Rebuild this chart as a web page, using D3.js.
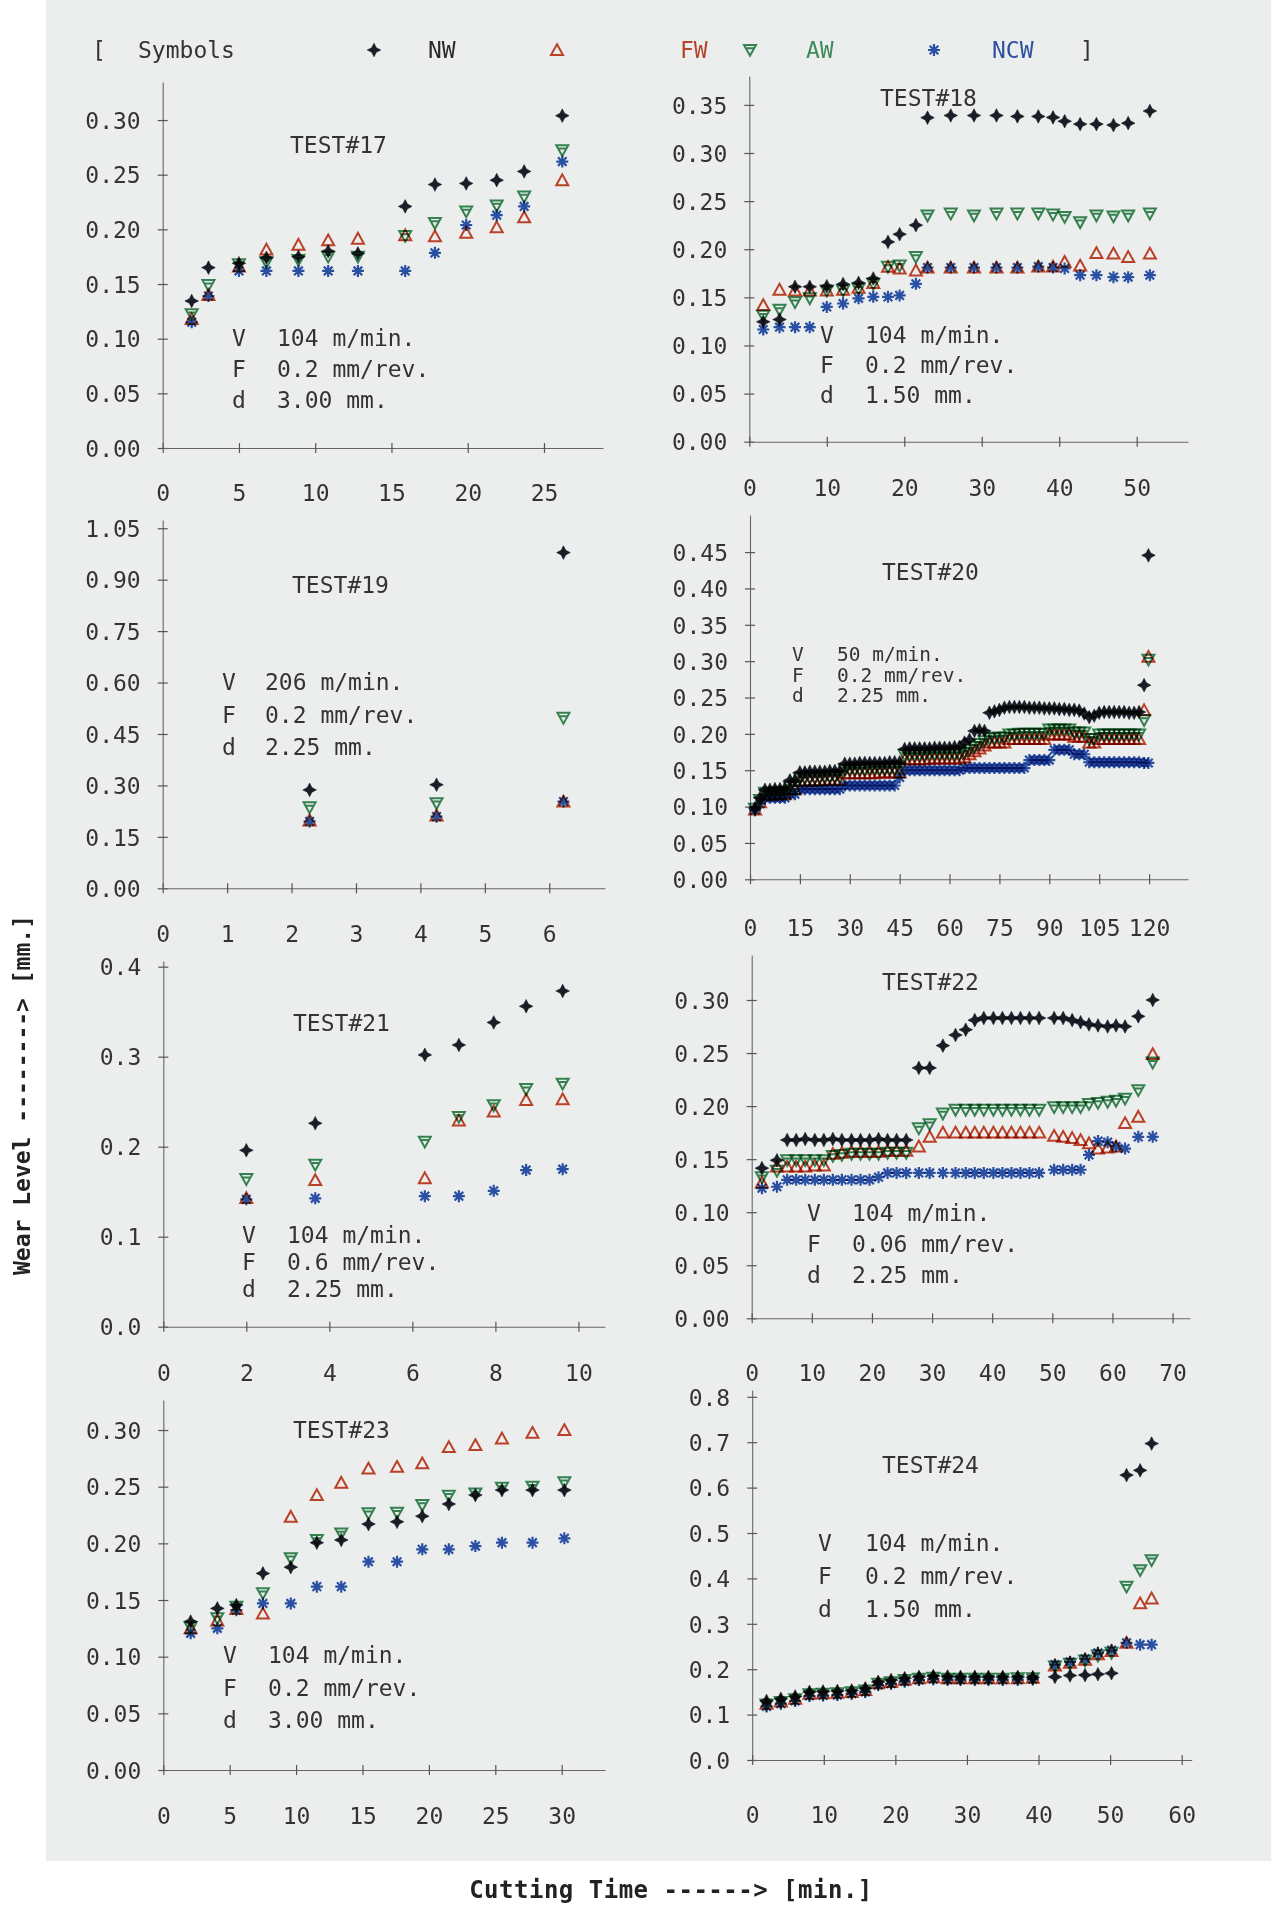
<!DOCTYPE html>
<html>
<head>
<meta charset="utf-8">
<script src="https://cdn.jsdelivr.net/npm/d3@7"></script>
<style>
  html, body { margin: 0; padding: 0; background: #ffffff; }
  svg { display: block; }
  text { font-family: "DejaVu Sans Mono", "Liberation Mono", monospace; font-size: 23px; fill: #333333; }
</style>
</head>
<body>
<svg id="chart" width="1271" height="1910"></svg>
<script>
// ---------------- data ----------------
const seriesNames = ["NW", "FW", "AW", "NCW"];
const legendTitle = "Symbols";
const xTitle = "Cutting Time ------>  [min.]";
const yTitle = "Wear Level -------->  [mm.]";
const paramKeys = ["V", "F", "d"];

// TEST#17
const t17   = [1.9, 3.0, 5.0, 6.8, 8.9, 10.85, 12.8, 15.9, 17.85, 19.9, 21.9, 23.7, 26.2];
const nw17  = [0.1345, 0.165, 0.169, 0.174, 0.175, 0.180, 0.178, 0.221, 0.241, 0.242, 0.245, 0.253, 0.304];
const fw17  = [0.118, 0.140, 0.166, 0.1815, 0.186, 0.190, 0.1915, 0.1945, 0.1936, 0.197, 0.202, 0.211, 0.245];
const aw17  = [0.1224, 0.149, 0.168, 0.170, 0.172, 0.175, 0.175, 0.194, 0.2058, 0.2164, 0.2218, 0.230, 0.2724];
const ncw17 = [0.115, 0.139, 0.162, 0.162, 0.162, 0.162, 0.162, 0.162, 0.1785, 0.204, 0.213, 0.221, 0.262];
const xTicks17 = [0, 5, 10, 15, 20, 25];
const yTicks17 = [0, 0.05, 0.10, 0.15, 0.20, 0.25, 0.30];
const params17 = ["104 m/min.", "0.2 mm/rev.", "3.00 mm."];

// TEST#18
const t18   = [1.8, 3.9, 5.9, 7.8, 10.0, 12.1, 14.1, 16.0, 17.9, 19.4, 21.5, 23.0, 26.0, 29.0, 31.9, 34.6, 37.3, 39.2, 40.7, 42.7, 44.8, 47.0, 48.9, 51.7];
const nw18  = [0.1246, 0.127, 0.161, 0.161, 0.1616, 0.1637, 0.165, 0.1696, 0.2076, 0.2156, 0.225, 0.3367, 0.339, 0.339, 0.339, 0.338, 0.338, 0.337, 0.333, 0.330, 0.330, 0.329, 0.331, 0.3436];
const fw18  = [0.142, 0.158, 0.157, 0.157, 0.157, 0.158, 0.160, 0.165, 0.1817, 0.180, 0.178, 0.181, 0.181, 0.181, 0.181, 0.181, 0.182, 0.182, 0.187, 0.183, 0.196, 0.1955, 0.192, 0.1955];
const aw18  = [0.131, 0.137, 0.145, 0.149, 0.157, 0.157, 0.159, 0.164, 0.1817, 0.183, 0.192, 0.235, 0.237, 0.235, 0.237, 0.237, 0.237, 0.236, 0.2336, 0.228, 0.235, 0.234, 0.235, 0.237];
const ncw18 = [0.1166, 0.119, 0.119, 0.119, 0.140, 0.1436, 0.149, 0.1505, 0.1505, 0.152, 0.164, 0.181, 0.181, 0.181, 0.181, 0.181, 0.182, 0.181, 0.180, 0.173, 0.173, 0.171, 0.171, 0.173];
const xTicks18 = [0, 10, 20, 30, 40, 50];
const yTicks18 = [0, 0.05, 0.10, 0.15, 0.20, 0.25, 0.30, 0.35];
const params18 = ["104 m/min.", "0.2 mm/rev.", "1.50 mm."];

// TEST#19
const t19   = [2.28, 4.25, 6.22];
const nw19  = [0.287, 0.302, 0.979];
const fw19  = [0.198, 0.212, 0.253];
const aw19  = [0.236, 0.248, 0.497];
const ncw19 = [0.195, 0.209, 0.253];
const xTicks19 = [0, 1, 2, 3, 4, 5, 6];
const yTicks19 = [0, 0.15, 0.30, 0.45, 0.60, 0.75, 0.90, 1.05];
const params19 = ["206 m/min.", "0.2 mm/rev.", "2.25 mm."];

// TEST#20
const t20 = [1.5, 3, 4.5, 6, 7.5, 9, 10.5, 12, 13.5, 15,
             16.5, 18, 19.5, 21, 22.5, 24, 25.5, 27, 28.5, 30,
             31.5, 33, 34.5, 36, 37.5, 39, 40.5, 42, 43.5, 45,
             46.5, 48, 49.5, 51, 52.5, 54, 55.5, 57, 58.5, 60,
             61.5, 63, 64.5, 66, 67.5, 69, 70.5, 72, 73.5, 75,
             76.5, 78, 79.5, 81, 82.5, 84, 85.5, 87, 88.5, 90,
             91.5, 93, 94.5, 96, 97.5, 99, 100.5, 102, 103.5, 105,
             106.5, 108, 109.5, 111, 112.5, 114, 115.5, 117, 118.5, 119.8];
const nw20 = [0.098, 0.112, 0.123, 0.123, 0.124, 0.124, 0.125, 0.136, 0.136, 0.147,
              0.147, 0.148, 0.148, 0.148, 0.148, 0.149, 0.149, 0.149, 0.159, 0.159,
              0.159, 0.160, 0.160, 0.160, 0.160, 0.160, 0.160, 0.161, 0.161, 0.161,
              0.179, 0.180, 0.180, 0.180, 0.180, 0.180, 0.181, 0.181, 0.181, 0.181,
              0.182, 0.182, 0.188, 0.192, 0.204, 0.205, 0.204, 0.229, 0.231, 0.233,
              0.236, 0.237, 0.237, 0.237, 0.237, 0.236, 0.236, 0.236, 0.235, 0.235,
              0.235, 0.234, 0.234, 0.233, 0.233, 0.232, 0.228, 0.223, 0.225, 0.229,
              0.230, 0.230, 0.230, 0.230, 0.230, 0.229, 0.229, 0.230, 0.267, 0.4455];
const fw20 = [0.096, 0.106, 0.116, 0.116, 0.117, 0.117, 0.117, 0.124, 0.124, 0.135,
              0.136, 0.136, 0.136, 0.136, 0.137, 0.137, 0.137, 0.137, 0.146, 0.146,
              0.146, 0.146, 0.146, 0.146, 0.146, 0.147, 0.147, 0.147, 0.147, 0.147,
              0.165, 0.165, 0.165, 0.165, 0.165, 0.166, 0.166, 0.166, 0.166, 0.166,
              0.166, 0.166, 0.168, 0.172, 0.176, 0.180, 0.184, 0.188, 0.188, 0.188,
              0.188, 0.193, 0.193, 0.193, 0.193, 0.193, 0.193, 0.193, 0.193, 0.199,
              0.199, 0.199, 0.199, 0.199, 0.196, 0.196, 0.196, 0.188, 0.188, 0.193,
              0.193, 0.193, 0.193, 0.193, 0.193, 0.193, 0.193, 0.193, 0.2326, 0.306];
const aw20 = [0.097, 0.109, 0.119, 0.119, 0.119, 0.120, 0.120, 0.127, 0.127, 0.139,
              0.140, 0.140, 0.140, 0.140, 0.141, 0.141, 0.141, 0.141, 0.151, 0.151,
              0.151, 0.151, 0.151, 0.152, 0.152, 0.152, 0.152, 0.152, 0.152, 0.152,
              0.171, 0.171, 0.171, 0.171, 0.171, 0.172, 0.172, 0.172, 0.172, 0.172,
              0.172, 0.172, 0.174, 0.178, 0.182, 0.186, 0.190, 0.194, 0.194, 0.195,
              0.195, 0.199, 0.199, 0.200, 0.200, 0.200, 0.200, 0.200, 0.200, 0.206,
              0.206, 0.206, 0.206, 0.206, 0.202, 0.202, 0.202, 0.193, 0.193, 0.199,
              0.199, 0.199, 0.199, 0.199, 0.199, 0.199, 0.199, 0.199, 0.219, 0.302];
const ncw20 = [0.095, 0.104, 0.112, 0.112, 0.112, 0.112, 0.112, 0.117, 0.117, 0.124,
               0.124, 0.124, 0.124, 0.124, 0.124, 0.124, 0.124, 0.124, 0.129, 0.129,
               0.129, 0.129, 0.129, 0.129, 0.129, 0.129, 0.129, 0.129, 0.129, 0.140,
               0.150, 0.150, 0.150, 0.150, 0.150, 0.150, 0.150, 0.150, 0.150, 0.150,
               0.150, 0.150, 0.153, 0.153, 0.153, 0.153, 0.153, 0.153, 0.153, 0.153,
               0.153, 0.153, 0.153, 0.153, 0.153, 0.164, 0.164, 0.164, 0.164, 0.164,
               0.178, 0.178, 0.178, 0.178, 0.172, 0.172, 0.172, 0.161, 0.161, 0.161,
               0.161, 0.161, 0.161, 0.161, 0.161, 0.161, 0.161, 0.161, 0.160, 0.160];
const xTicks20 = [0, 15, 30, 45, 60, 75, 90, 105, 120];
const yTicks20 = [0, 0.05, 0.10, 0.15, 0.20, 0.25, 0.30, 0.35, 0.40, 0.45];
const params20 = ["50 m/min.", "0.2 mm/rev.", "2.25 mm."];

// TEST#21
const t21   = [2.0, 3.66, 6.3, 7.12, 7.96, 8.74, 9.62];
const nw21  = [0.196, 0.226, 0.302, 0.313, 0.338, 0.356, 0.373];
const fw21  = [0.143, 0.163, 0.165, 0.229, 0.239, 0.252, 0.2526];
const aw21  = [0.164, 0.180, 0.2056, 0.233, 0.246, 0.264, 0.270];
const ncw21 = [0.1415, 0.1426, 0.145, 0.145, 0.151, 0.174, 0.175];
const xTicks21 = [0, 2, 4, 6, 8, 10];
const yTicks21 = [0, 0.1, 0.2, 0.3, 0.4];
const params21 = ["104 m/min.", "0.6 mm/rev.", "2.25 mm."];

// TEST#22
const t22 = [1.7, 4.2, 5.9, 7.4, 8.9, 10.5, 12.0, 13.5, 15.0, 16.6,
             18.1, 19.6, 21.1, 22.6, 24.1, 25.7, 27.8, 29.6, 31.8, 33.9,
             35.6, 37.1, 38.6, 40.2, 41.7, 43.2, 44.7, 46.2, 47.8, 50.3,
             51.8, 53.3, 54.7, 56.1, 57.6, 59.2, 60.6, 62.1, 64.3, 66.7];
const nw22 = [0.1415, 0.149, 0.168, 0.168, 0.169, 0.168, 0.168, 0.169, 0.168, 0.168,
              0.168, 0.168, 0.169, 0.168, 0.168, 0.168, 0.236, 0.236, 0.257, 0.267,
              0.272, 0.281, 0.283, 0.283, 0.283, 0.283, 0.283, 0.283, 0.283, 0.283,
              0.283, 0.281, 0.279, 0.277, 0.276, 0.275, 0.276, 0.275, 0.2846, 0.300];
const fw22 = [0.128, 0.143, 0.143, 0.143, 0.143, 0.144, 0.144, 0.155, 0.156, 0.157,
              0.157, 0.157, 0.157, 0.158, 0.158, 0.158, 0.162, 0.171, 0.175, 0.175,
              0.175, 0.175, 0.175, 0.175, 0.175, 0.175, 0.175, 0.175, 0.175, 0.172,
              0.171, 0.170, 0.168, 0.165, 0.160, 0.161, 0.162, 0.184, 0.190, 0.249];
const aw22 = [0.133, 0.139, 0.149, 0.149, 0.149, 0.149, 0.149, 0.153, 0.154, 0.155,
              0.155, 0.155, 0.155, 0.156, 0.156, 0.156, 0.179, 0.183, 0.193, 0.1965,
              0.1965, 0.1965, 0.1965, 0.1965, 0.1965, 0.1965, 0.1965, 0.1965, 0.1965, 0.199,
              0.199, 0.199, 0.199, 0.202, 0.203, 0.204, 0.205, 0.207, 0.215, 0.241];
const ncw22 = [0.1226, 0.124, 0.1305, 0.1305, 0.1305, 0.1305, 0.1305, 0.1305, 0.1305, 0.1305,
               0.1305, 0.1305, 0.133, 0.137, 0.137, 0.137, 0.137, 0.137, 0.137, 0.137,
               0.137, 0.137, 0.137, 0.137, 0.137, 0.137, 0.137, 0.137, 0.137, 0.140,
               0.140, 0.140, 0.140, 0.154, 0.167, 0.166, 0.162, 0.160, 0.171, 0.171];
const xTicks22 = [0, 10, 20, 30, 40, 50, 60, 70];
const yTicks22 = [0, 0.05, 0.10, 0.15, 0.20, 0.25, 0.30];
const params22 = ["104 m/min.", "0.06 mm/rev.", "2.25 mm."];

// TEST#23
const t23   = [2.06, 4.07, 5.5, 7.5, 9.6, 11.56, 13.4, 15.45, 17.6, 19.5, 21.5, 23.5, 25.5, 27.8, 30.2];
const nw23  = [0.131, 0.1426, 0.1456, 0.1735, 0.179, 0.2006, 0.203, 0.217, 0.219, 0.224, 0.2347, 0.2426, 0.247, 0.247, 0.247];
const fw23  = [0.125, 0.132, 0.142, 0.138, 0.2235, 0.2426, 0.2535, 0.266, 0.2676, 0.2706, 0.285, 0.2868, 0.2926, 0.2976, 0.300];
const aw23  = [0.126, 0.134, 0.144, 0.156, 0.1868, 0.203, 0.2088, 0.2265, 0.227, 0.2338, 0.242, 0.244, 0.249, 0.250, 0.254];
const ncw23 = [0.1206, 0.125, 0.141, 0.147, 0.147, 0.1618, 0.1618, 0.1838, 0.1838, 0.1947, 0.1947, 0.1976, 0.2006, 0.2006, 0.2044];
const xTicks23 = [0, 5, 10, 15, 20, 25, 30];
const yTicks23 = [0, 0.05, 0.10, 0.15, 0.20, 0.25, 0.30];
const params23 = ["104 m/min.", "0.2 mm/rev.", "3.00 mm."];

// TEST#24
const t24 = [2, 4, 6, 8, 9.9, 11.9, 13.9, 15.8, 17.6, 19.4,
             21.3, 23.3, 25.3, 27.3, 29.1, 31.1, 33.0, 35.0, 37.1, 39.2,
             42.3, 44.4, 46.5, 48.3, 50.2, 52.3, 54.2, 55.8];
const nw24 = [0.130, 0.135, 0.140, 0.150, 0.151, 0.152, 0.153, 0.158, 0.172, 0.176,
              0.180, 0.183, 0.185, 0.184, 0.183, 0.183, 0.183, 0.183, 0.183, 0.182,
              0.183, 0.186, 0.187, 0.189, 0.191, 0.6275, 0.638, 0.697];
const fw24 = [0.124, 0.129, 0.135, 0.146, 0.147, 0.148, 0.150, 0.154, 0.169, 0.172,
              0.177, 0.180, 0.182, 0.180, 0.180, 0.180, 0.180, 0.180, 0.180, 0.181,
              0.208, 0.214, 0.221, 0.233, 0.240, 0.258, 0.345, 0.356];
const aw24 = [0.122, 0.128, 0.134, 0.145, 0.146, 0.147, 0.149, 0.153, 0.168, 0.171,
              0.176, 0.179, 0.181, 0.179, 0.179, 0.179, 0.179, 0.179, 0.180, 0.180,
              0.206, 0.212, 0.219, 0.230, 0.236, 0.3817, 0.418, 0.440];
const ncw24 = [0.118, 0.124, 0.130, 0.141, 0.142, 0.143, 0.146, 0.150, 0.165, 0.168,
               0.173, 0.176, 0.178, 0.177, 0.177, 0.177, 0.177, 0.177, 0.177, 0.178,
               0.210, 0.216, 0.223, 0.236, 0.242, 0.258, 0.254, 0.254];
const xTicks24 = [0, 10, 20, 30, 40, 50, 60];
const yTicks24 = [0, 0.1, 0.2, 0.3, 0.4, 0.5, 0.6, 0.7, 0.8];
const params24 = ["104 m/min.", "0.2 mm/rev.", "1.50 mm."];

const panels = [
  { id: "17", title: "TEST#17", t: t17, vals: [nw17, fw17, aw17, ncw17], xt: xTicks17, yt: yTicks17, fmt: ".2f", params: params17 },
  { id: "18", title: "TEST#18", t: t18, vals: [nw18, fw18, aw18, ncw18], xt: xTicks18, yt: yTicks18, fmt: ".2f", params: params18 },
  { id: "19", title: "TEST#19", t: t19, vals: [nw19, fw19, aw19, ncw19], xt: xTicks19, yt: yTicks19, fmt: ".2f", params: params19 },
  { id: "20", title: "TEST#20", t: t20, vals: [nw20, fw20, aw20, ncw20], xt: xTicks20, yt: yTicks20, fmt: ".2f", params: params20 },
  { id: "21", title: "TEST#21", t: t21, vals: [nw21, fw21, aw21, ncw21], xt: xTicks21, yt: yTicks21, fmt: ".1f", params: params21 },
  { id: "22", title: "TEST#22", t: t22, vals: [nw22, fw22, aw22, ncw22], xt: xTicks22, yt: yTicks22, fmt: ".2f", params: params22 },
  { id: "23", title: "TEST#23", t: t23, vals: [nw23, fw23, aw23, ncw23], xt: xTicks23, yt: yTicks23, fmt: ".2f", params: params23 },
  { id: "24", title: "TEST#24", t: t24, vals: [nw24, fw24, aw24, ncw24], xt: xTicks24, yt: yTicks24, fmt: ".1f", params: params24 }
];

// ---------------- layout ----------------
// xr: pixel range of the time axis, yr: pixel range (bottom, top) of the wear axis
// par: [key x, value x, first line y, line gap, font size]
const layout = {
  "17": { xr: [162.7, 603],    xMax: 28.87, yr: [448, 82],     yMax: 0.3348, title: [290, 145],  par: [232, 277, 338, 31, 23],   xlab: 45 },
  "18": { xr: [749.3, 1188],   xMax: 56.62, yr: [441.7, 76],   yMax: 0.380,  title: [880, 98],   par: [820, 865, 335, 30, 23],   xlab: 46 },
  "19": { xr: [162.7, 605],    xMax: 6.865, yr: [888.3, 520],  yMax: 1.074,  title: [292, 585],  par: [222, 265, 682, 32.5, 23], xlab: 45 },
  "20": { xr: [750, 1188],     xMax: 131.7, yr: [879.3, 515],  yMax: 0.501,  title: [882, 572],  par: [792, 837, 654, 20.5, 19.5], xlab: 48 },
  "21": { xr: [163.3, 605],    xMax: 10.64, yr: [1326.7, 961], yMax: 0.4063, title: [293, 1023], par: [242, 287, 1235, 27, 23],  xlab: 46 },
  "22": { xr: [751.7, 1190],   xMax: 72.9,  yr: [1318.3, 955], yMax: 0.3424, title: [882, 982],  par: [807, 852, 1213, 31, 23],  xlab: 54 },
  "23": { xr: [163.3, 605],    xMax: 33.26, yr: [1770, 1400],  yMax: 0.3265, title: [293, 1430], par: [223, 268, 1655, 32.5, 23], xlab: 46 },
  "24": { xr: [752.2, 1191.7], xMax: 61.4,  yr: [1760, 1390],  yMax: 0.815,  title: [882, 1465], par: [818, 865, 1543, 33, 23],  xlab: 55 }
};

const marker = {
  NW:  { d: "M0,-6.8L2.3,-2.3L6.8,0L2.3,2.3L0,6.8L-2.3,2.3L-6.8,0L-2.3,-2.3Z", fill: "#1c1e28", stroke: "#1c1e28", sw: 0.6 },
  FW:  { d: "M0,-5.8L6,5L-6,5Z", fill: "none", stroke: "#c8452b", sw: 2 },
  AW:  { d: "M-6,-5L6,-5L0,5.8ZM-3.8,-1.7L3.8,-1.7", fill: "none", stroke: "#3a8a56", sw: 2 },
  NCW: { d: "M-6,0L6,0M0,-6L0,6M-4.3,-4.3L4.3,4.3M-4.3,4.3L4.3,-4.3", fill: "none", stroke: "#2c55b0", sw: 2.2 }
};
const legendColor = { NW: "#2a2a2a", FW: "#b8432c", AW: "#3f8b5a", NCW: "#2d50a0" };

const svg = d3.select("#chart");

// paper sheet
svg.append("rect").attr("x", 46).attr("y", 0).attr("width", 1225).attr("height", 1861).attr("fill", "#eceeed");

function drawMarker(sel, name) {
  const m = marker[name];
  sel.attr("d", m.d)
     .attr("fill", m.fill)
     .attr("stroke", m.stroke)
     .attr("stroke-width", m.sw)
     .attr("stroke-linejoin", "miter")
     .style("mix-blend-mode", "multiply");
}

// ---------------- panels ----------------
panels.forEach(p => {
  const L = layout[p.id];
  const x = d3.scaleLinear().domain([0, L.xMax]).range(L.xr);
  const y = d3.scaleLinear().domain([0, L.yMax]).range(L.yr);
  const g = svg.append("g").attr("class", "panel-" + p.id);

  // y axis
  const gy = g.append("g").attr("transform", `translate(${x(0)},0)`)
    .call(d3.axisLeft(y).tickValues(p.yt).tickFormat(d3.format(p.fmt)).tickSize(5).tickSizeOuter(0));
  gy.attr("font-family", null).attr("font-size", null);
  gy.select(".domain").attr("stroke", "#666").attr("stroke-width", 1.1);
  gy.selectAll(".tick line").attr("x1", -5).attr("x2", 5).attr("stroke", "#555").attr("stroke-width", 1.2);
  gy.selectAll(".tick text").attr("x", -22).attr("dy", "0.36em").attr("fill", "#333");

  // x axis
  const gx = g.append("g").attr("transform", `translate(0,${y(0)})`)
    .call(d3.axisBottom(x).tickValues(p.xt).tickFormat(d3.format("d")).tickSize(5).tickSizeOuter(0));
  gx.attr("font-family", null).attr("font-size", null);
  gx.select(".domain").attr("stroke", "#666").attr("stroke-width", 1.1);
  gx.selectAll(".tick line").attr("y1", -5).attr("y2", 5).attr("stroke", "#555").attr("stroke-width", 1.2);
  gx.selectAll(".tick text").attr("y", L.xlab).attr("dy", "0.36em").attr("fill", "#333");

  // title and cutting conditions
  g.append("text").attr("x", L.title[0]).attr("y", L.title[1]).attr("dy", "0.36em").text(p.title);
  p.params.forEach((s, i) => {
    const yy = L.par[2] + i * L.par[3];
    g.append("text").attr("x", L.par[0]).attr("y", yy).attr("dy", "0.36em")
      .style("font-size", L.par[4] + "px").text(paramKeys[i]);
    g.append("text").attr("x", L.par[1]).attr("y", yy).attr("dy", "0.36em")
      .style("font-size", L.par[4] + "px").text(s);
  });

  // markers
  seriesNames.forEach((name, k) => {
    const pts = p.t.map((t, i) => ({ t: t, v: p.vals[k][i] }));
    g.append("g").attr("class", "series-" + name)
      .selectAll("path").data(pts).join("path")
      .attr("transform", d => `translate(${x(d.t)},${y(d.v)})`)
      .call(drawMarker, name);
  });
});

// ---------------- legend row ----------------
const legendY = 50;
svg.append("text").attr("x", 92).attr("y", legendY).attr("dy", "0.36em").text("[");
svg.append("text").attr("x", 138).attr("y", legendY).attr("dy", "0.36em").text(legendTitle);
const legendPos = { NW: [374, 428], FW: [557, 680], AW: [750, 806], NCW: [934, 992] };
seriesNames.forEach(name => {
  const pos = legendPos[name];
  svg.append("path").attr("transform", `translate(${pos[0]},${legendY})`).call(drawMarker, name);
  svg.append("text").attr("x", pos[1]).attr("y", legendY).attr("dy", "0.36em")
    .style("fill", legendColor[name]).text(name);
});
svg.append("text").attr("x", 1080).attr("y", legendY).attr("dy", "0.36em").text("]");

// ---------------- axis titles ----------------
svg.append("text").attr("x", 671).attr("y", 1889).attr("dy", "0.36em")
  .attr("text-anchor", "middle").style("font-weight", "bold").style("font-size", "24px")
  .style("letter-spacing", "0.5px").style("fill", "#222").text(xTitle);
svg.append("text").attr("transform", "translate(22,1095) rotate(-90)").attr("dy", "0.36em")
  .attr("text-anchor", "middle").style("font-weight", "bold").style("fill", "#222").text(yTitle);
</script>
</body>
</html>
